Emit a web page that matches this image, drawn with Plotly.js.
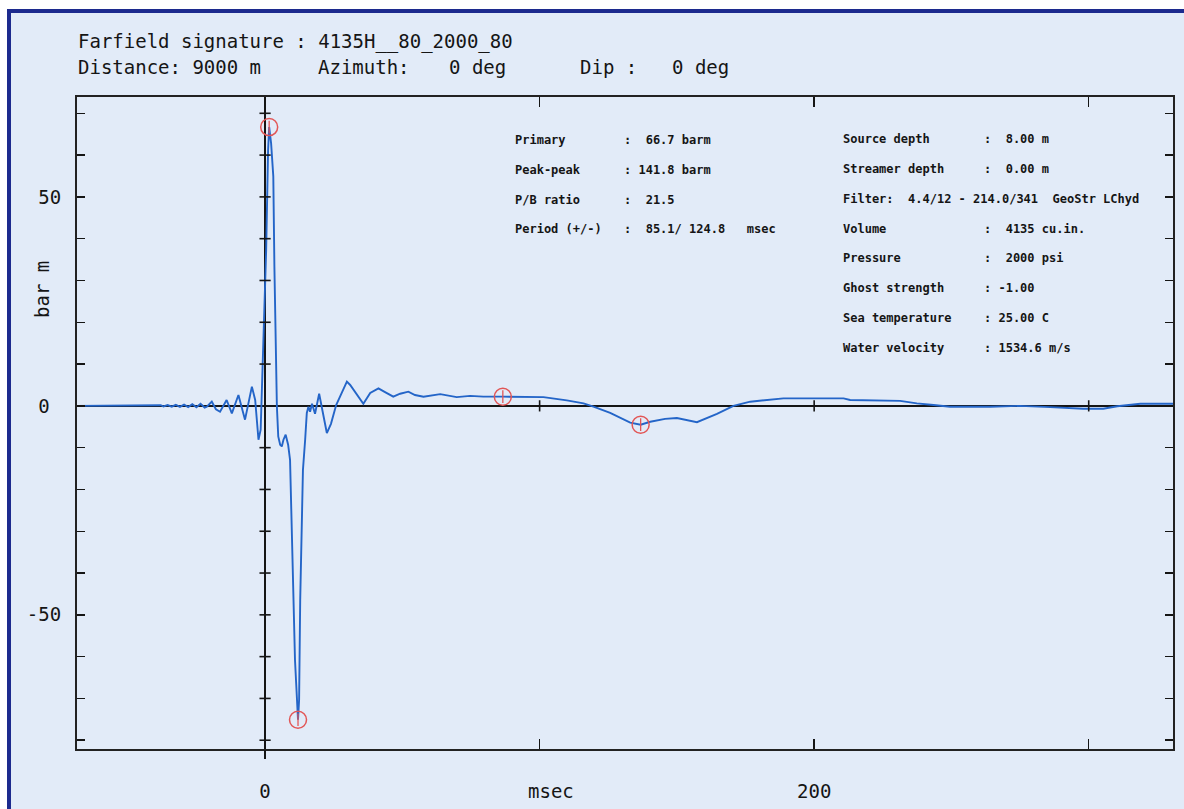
<!DOCTYPE html>
<html>
<head>
<meta charset="utf-8">
<script src="https://cdn.plot.ly/plotly-3.0.1.min.js"></script>
<style>
  html, body { margin: 0; padding: 0; background: #ffffff; }
  #chart { width: 1184px; height: 809px; }
</style>
</head>
<body>
<div id="chart"></div>
<script>
// ---- data ----
const timeMs = [-68.5, -45, -40, -38, -37, -35.5, -34, -32.5, -31, -29.5, -28, -26.5, -25, -23.5, -22,
  -21.2, -19.4, -17.9, -16.4, -14.0, -12.1, -9.7, -7.3, -4.8, -3.6, -2.4, -1.6, -0.9, -0.4, 0.4, 1.1, 1.5,
  2.2, 3.0, 3.4, 3.8, 4.3, 4.8, 5.5, 6.1, 6.7, 7.5, 8.4, 9.1, 9.8, 10.3, 10.9, 12.0, 12.4, 12.8, 13.3, 13.8,
  14.6, 15.2, 15.8, 16.4, 17.1, 18.2, 19.7, 20.8, 22.5, 24.0, 25.9, 27.3, 29.8, 31.0, 32.8, 35.8, 38.3,
  41.3, 43.7, 46.7, 49.2, 52.2, 54.6, 57.7, 63.8, 69.8, 74.7, 79.5, 86.6, 92.9, 101.4, 109.9, 116.0, 119.6,
  125.7, 133.0, 136.8, 140.3, 145.7, 150.0, 153.4, 157.3, 164.6, 170.6, 176.7, 188.8, 210.7, 213.1, 231.3,
  237.4, 243.5, 249.5, 264.1, 275.0, 286.0, 298.0, 305.3, 310.4, 318.8, 330.7];
const pressureBarM = [0, 0, 0, 0.15, -0.15, 0.2, -0.2, 0.25, -0.25, 0.3, -0.3, 0.4, -0.35, 0.5, -0.4,
  -0.2, 1.0, -0.8, -1.4, 1.4, -1.8, 2.6, -3.3, 4.6, 1.4, -8.1, -5.7, 9.6, 15.8, 37.3, 61.2, 66.7,
  62.8, 54.9, 33.3, 13.4, 0, -7.3, -9.3, -9.7, -8.1, -6.9, -9.3, -12.9, -32.1, -46.4, -60.8, -75.1, -70.3, -46.4, -27.3, -15.3,
  -8.1, -1.7, -0.2, -1.4, 0.5, -1.9, 2.9, -1.0, -6.5, -4.3, 0.2, 2.2, 5.8, 5.0, 3.3, 0.5, 3.1,
  4.2, 3.3, 2.2, 2.9, 3.4, 2.6, 2.2, 2.8, 2.1, 2.4, 2.2, 2.2, 2.2, 2.1, 1.3, 0.6, -0.2,
  -1.7, -4.0, -4.5, -3.8, -3.1, -2.9, -3.3, -3.9, -1.9, 0, 1.0, 1.8, 1.8, 1.4, 1.2,
  0.6, 0.2, -0.2, -0.2, 0, -0.3, -0.7, -0.7, -0.1, 0.5, 0.5];

// picked points (primary peak, trough, bubble peak, bubble trough)
const keyTimeMs = [1.5, 12.0, 86.6, 136.8];
const keyBarM = [66.7, -75.1, 2.2, -4.5];

// axis ticks
const xTickVals = [0, 100, 200, 300];
const xTickText = ['0', '', '200', ''];
const yTickVals = [-50, 0, 50];
const yTickText = ['-50', '0\u00A0', '50'];
const yZeroAxisTicks = [-80, -70, -60, -50, -40, -30, -20, -10, 10, 20, 30, 40, 50, 60, 70];
const xZeroAxisTicks = [100, 200, 300];

// text
const titleLine1 = 'Farfield signature : 4135H__80_2000_80';
const titleLine2 = ['Distance: 9000 m', 'Azimuth:', '0 deg', 'Dip :', '0 deg'];
const leftLabels = ['Primary', 'Peak-peak', 'P/B ratio', 'Period (+/-)'];
const leftValues = [':  66.7 barm', ': 141.8 barm', ':  21.5', ':  85.1/ 124.8   msec'];
const rightLabels = ['Source depth', 'Streamer depth', 'Filter:  4.4/12 - 214.0/341  GeoStr LChyd', 'Volume', 'Pressure', 'Ghost strength', 'Sea temperature', 'Water velocity'];
const rightValues = [':  8.00 m', ':  0.00 m', '', ':  4135 cu.in.', ':  2000 psi', ': -1.00', ': 25.00 C', ': 1534.6 m/s'];

// ---- layout geometry (pixels) ----
const W = 1184, H = 809;
const L = 77, R = 1173, T = 97, B = 749;
const px = x => (x - L) / (R - L);
const py = y => (B - y) / (B - T);
const nb = s => s.replace(/ /g, '\u00A0');

const mono = 'DejaVu Sans Mono, Liberation Mono, monospace';
const ink = '#151515';

const annotations = [];
function addText(text, x, y, size, opts, weight) {
  annotations.push(Object.assign({
    text: nb(text), xref: 'paper', yref: 'paper', x: px(x), y: py(y),
    xanchor: 'left', yanchor: 'middle', showarrow: false,
    font: { family: mono, size: size, color: ink, weight: weight || 'normal' }
  }, opts || {}));
}
addText(titleLine1, 76, 42, 19);
const line2X = [76, 316, 447, 578, 670];
titleLine2.forEach((s, i) => addText(s, line2X[i], 67, 19));

const leftRowsY = [140, 170, 200, 229];
leftLabels.forEach((s, i) => addText(s, 513, leftRowsY[i], 12, null, 'bold'));
leftValues.forEach((s, i) => addText(s, 622, leftRowsY[i], 12, null, 'bold'));
const rightRowsY = [139, 169, 199, 229, 258, 288, 318, 348];
rightLabels.forEach((s, i) => addText(s, 841, rightRowsY[i], 12, null, 'bold'));
rightValues.forEach((s, i) => { if (s) addText(s, 982, rightRowsY[i], 12, null, 'bold'); });

addText('msec', 551, 791, 19, { xanchor: 'center' });
addText('bar m', 42, 290, 19, { xanchor: 'center', textangle: -90 });

const traces = [
  { x: timeMs, y: pressureBarM, type: 'scatter', mode: 'lines',
    line: { color: '#2465c8', width: 1.9 }, hoverinfo: 'skip' },
  { x: keyTimeMs, y: keyBarM, type: 'scatter', mode: 'markers',
    marker: { symbol: 'circle-open', size: 17, color: '#e25656', line: { width: 1.5, color: '#e25656' } }, hoverinfo: 'skip' },
  { x: keyTimeMs, y: keyBarM, type: 'scatter', mode: 'markers',
    marker: { symbol: 'line-ns-open', size: 9, color: '#e25656', line: { width: 1.3, color: '#e25656' } }, hoverinfo: 'skip' },
  { x: yZeroAxisTicks.map(() => 0), y: yZeroAxisTicks, type: 'scatter', mode: 'markers',
    marker: { symbol: 'line-ew-open', size: 8, color: ink, line: { width: 1.6, color: ink } }, hoverinfo: 'skip' },
  { x: xZeroAxisTicks, y: xZeroAxisTicks.map(() => 0), type: 'scatter', mode: 'markers',
    marker: { symbol: 'line-ns-open', size: 8, color: ink, line: { width: 1.6, color: ink } }, hoverinfo: 'skip' }
];

const layout = {
  width: W, height: H,
  margin: { l: L, r: W - R, t: T, b: H - B, pad: 0 },
  paper_bgcolor: '#ffffff',
  plot_bgcolor: 'rgba(0,0,0,0)',
  showlegend: false,
  hovermode: false,
  xaxis: {
    range: [-68.5, 330.7], tickvals: xTickVals, ticktext: xTickText,
    ticks: 'inside', ticklen: 10, tickwidth: 1.5, tickcolor: ink,
    showline: true, linecolor: '#222', linewidth: 2, mirror: 'ticks',
    zeroline: true, zerolinecolor: ink, zerolinewidth: 1.6,
    showgrid: false, ticklabelstandoff: 24,
    tickfont: { family: mono, size: 19, color: ink }
  },
  xaxis2: {
    overlaying: 'x', matches: 'x', anchor: 'y', side: 'bottom',
    tickvals: [0], ticks: 'outside', ticklen: 9, tickwidth: 1.6, tickcolor: ink,
    showticklabels: false, showline: false, showgrid: false, zeroline: false
  },
  yaxis: {
    range: [-82.1, 73.9], tickvals: yTickVals, ticktext: yTickText,
    ticks: 'inside', ticklen: 8, tickwidth: 1.5, tickcolor: ink,
    minor: { dtick: 10, tick0: 0, ticks: 'inside', ticklen: 8, tickwidth: 1.5, tickcolor: ink },
    showline: true, linecolor: '#222', linewidth: 2, mirror: 'ticks',
    zeroline: true, zerolinecolor: ink, zerolinewidth: 1.6,
    showgrid: false, ticklabelstandoff: 10,
    tickfont: { family: mono, size: 19, color: ink }
  },
  shapes: [
    { type: 'rect', xref: 'paper', yref: 'paper', layer: 'below',
      x0: px(9), x1: px(1210), y0: py(11), y1: py(840),
      fillcolor: '#e2ebf8', line: { color: '#1c2a8e', width: 4 } }
  ],
  annotations: annotations
};

// dummy trace to activate xaxis2
traces.push({ x: [0], y: [0], xaxis: 'x2', type: 'scatter', mode: 'markers',
  marker: { opacity: 0 }, hoverinfo: 'skip' });

Plotly.newPlot('chart', traces, layout, { displayModeBar: false, staticPlot: true });
</script>
</body>
</html>
